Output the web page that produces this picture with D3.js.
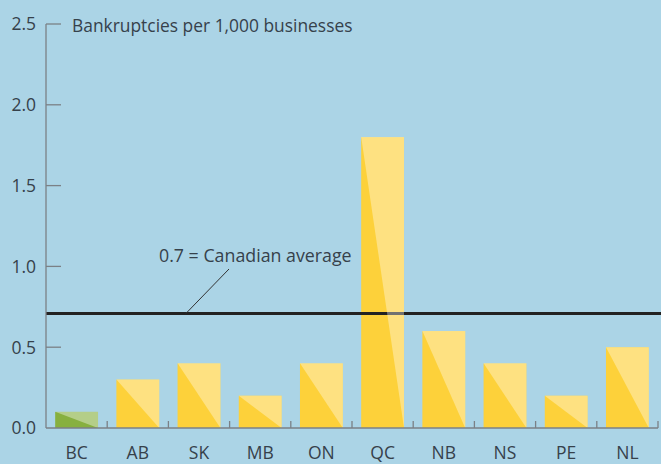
<!DOCTYPE html>
<html>
<head>
<meta charset="utf-8">
<script src="https://cdn.jsdelivr.net/npm/d3@7"></script>
<style>
  body { margin: 0; background: #abd4e6; }
  svg { display: block; font-family: 'Open Sans', sans-serif; }
  text { fill: #36414b; }
</style>
</head>
<body>
<svg id="chart" width="661" height="464"></svg>
<script>
const provinces = ['BC', 'AB', 'SK', 'MB', 'ON', 'QC', 'NB', 'NS', 'PE', 'NL'];
const bankruptcies = [0.1, 0.3, 0.4, 0.2, 0.4, 1.8, 0.6, 0.4, 0.2, 0.5];
const yTicks = [0, 0.5, 1.0, 1.5, 2.0, 2.5];
const canadianAverage = 0.7;

const svg = d3.select('#chart');
const width = +svg.attr('width');
const height = +svg.attr('height');
const margin = { left: 46, right: 3, top: 24, bottom: 36 };

const x = d3.scaleBand()
  .domain(provinces)
  .range([margin.left, width - margin.right]);
const y = d3.scaleLinear()
  .domain([0, 2.5])
  .range([height - margin.bottom, margin.top]);

svg.append('rect')
  .attr('width', width)
  .attr('height', height)
  .attr('fill', '#abd4e6');

const barW = x.bandwidth() * 0.7;
const barX = d => x(d.p) + (x.bandwidth() - barW) / 2;
const data = provinces.map((p, i) => ({ p, v: bankruptcies[i] }));
const dark = d => (d.p === 'BC' ? '#87b03f' : '#fdd13a');

// base bars (dark colour)
svg.append('g')
  .selectAll('rect')
  .data(data)
  .enter()
  .append('rect')
  .attr('x', barX)
  .attr('y', d => y(d.v))
  .attr('width', barW)
  .attr('height', d => y(0) - y(d.v))
  .attr('fill', dark);

// average line, under the light half of the bars
const avgY = y(canadianAverage) - 1.5;
svg.append('line')
  .attr('x1', margin.left)
  .attr('x2', width)
  .attr('y1', avgY)
  .attr('y2', avgY)
  .attr('stroke', '#222')
  .attr('stroke-width', 3);

// light upper-right triangle
svg.append('g')
  .selectAll('path')
  .data(data)
  .enter()
  .append('path')
  .attr('d', (d) => {
    const x0 = barX(d);
    const x1 = x0 + barW;
    return `M${x0},${y(d.v)}L${x1},${y(d.v)}L${x1},${y(0)}Z`;
  })
  .attr('fill', '#fff')
  .attr('fill-opacity', d => (d.p === 'BC' ? 0.38 : 0.36));

// y axis
const axisColor = '#7b8086';
const yAxis = svg.append('g');
yAxis.append('line')
  .attr('x1', margin.left)
  .attr('x2', margin.left)
  .attr('y1', y(2.5))
  .attr('y2', y(0))
  .attr('stroke', axisColor)
  .attr('stroke-width', 1.3);
yAxis.selectAll('.tick')
  .data(yTicks.slice(1))
  .enter()
  .append('line')
  .attr('x1', margin.left)
  .attr('x2', margin.left + 15)
  .attr('y1', d => y(d))
  .attr('y2', d => y(d))
  .attr('stroke', axisColor)
  .attr('stroke-width', 1.3);
yAxis.selectAll('text')
  .data(yTicks)
  .enter()
  .append('text')
  .attr('x', 36)
  .attr('y', d => y(d))
  .attr('dy', '0.36em')
  .attr('text-anchor', 'end')
  .style('font-size', '17.5px')
  .text(d => d3.format('.1f')(d));

// x axis
const xAxis = svg.append('g');
xAxis.append('line')
  .attr('x1', margin.left)
  .attr('x2', x.range()[1])
  .attr('y1', y(0))
  .attr('y2', y(0))
  .attr('stroke', axisColor)
  .attr('stroke-width', 1.3);
xAxis.selectAll('.tick')
  .data(provinces)
  .enter()
  .append('line')
  .attr('x1', d => x(d) + x.bandwidth())
  .attr('x2', d => x(d) + x.bandwidth())
  .attr('y1', y(0))
  .attr('y2', y(0) - 7)
  .attr('stroke', axisColor)
  .attr('stroke-width', 1.3);
xAxis.selectAll('text')
  .data(provinces)
  .enter()
  .append('text')
  .attr('x', d => x(d) + x.bandwidth() / 2)
  .attr('y', 459)
  .attr('text-anchor', 'middle')
  .style('font-size', '17.5px')
  .text(d => d);

// title
svg.append('text')
  .attr('x', 72)
  .attr('y', 32)
  .style('font-size', '17.4px')
  .text('Bankruptcies per 1,000 businesses');

// annotation
svg.append('line')
  .attr('x1', 186)
  .attr('y1', avgY)
  .attr('x2', 229)
  .attr('y2', 269)
  .attr('stroke', '#333')
  .attr('stroke-width', 1);
svg.append('text')
  .attr('x', 159)
  .attr('y', 262)
  .style('font-size', '17.8px')
  .text(`${canadianAverage} = Canadian average`);
</script>
</body>
</html>
